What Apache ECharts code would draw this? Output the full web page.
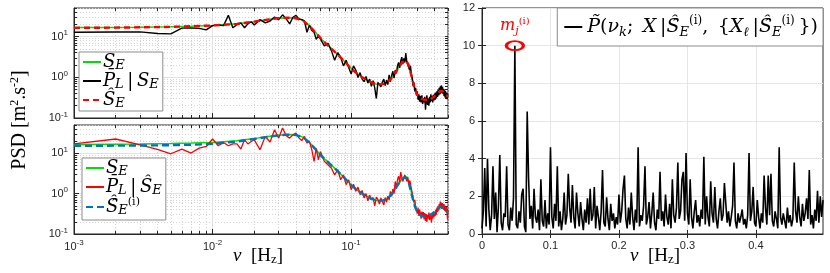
<!DOCTYPE html>
<html><head><meta charset="utf-8">
<script src="https://cdn.jsdelivr.net/npm/echarts@6/dist/echarts.min.js"></script>
<style>html,body{margin:0;padding:0;background:#fff}#c{width:830px;height:273px}</style>
</head><body><div id="c"></div>
<script>
// ---------- DATA ----------
const fSmooth = [0.001,0.002,0.003,0.005,0.007,0.01,0.015,0.02,0.025,0.03,0.035,0.04,0.045,0.05,0.055,0.06,0.065,0.07,0.08,0.09,0.1,0.11,0.12,0.13,0.14,0.15,0.16,0.17,0.18,0.19,0.2,0.21,0.22,0.23,0.24,0.25,0.26,0.27,0.28,0.29,0.3,0.32,0.34,0.36,0.38,0.4,0.42,0.44,0.45,0.46,0.48,0.5];
const sE = [16.5,16.7,16.9,17.3,17.8,18.5,20.5,23,26,28,29,28.5,25,18.5,13,9,7,5.6,3.6,2.4,1.65,1.25,1.0,0.85,0.74,0.68,0.66,0.67,0.72,0.85,1.05,1.35,1.75,2.2,2.55,2.6,2.0,1.2,0.72,0.48,0.37,0.30,0.28,0.28,0.30,0.33,0.39,0.45,0.47,0.45,0.38,0.33];
const sEhat = [16.3,16.5,16.8,17.2,17.8,18.6,20.3,23.2,26,28.2,29,28,24.5,18,12.8,9.2,7,5.5,3.6,2.4,1.62,1.24,1.0,0.85,0.75,0.69,0.67,0.68,0.73,0.86,1.05,1.33,1.72,2.15,2.5,2.55,2.0,1.22,0.74,0.49,0.37,0.30,0.28,0.28,0.30,0.34,0.40,0.46,0.47,0.45,0.38,0.33];
const sEhatI = [15.3,15.4,15.5,15.8,16.2,17,19.5,22.5,25.5,27.8,28.8,28.2,24.8,18.2,12.8,9,7,5.5,3.6,2.4,1.62,1.24,1.0,0.84,0.74,0.69,0.67,0.68,0.73,0.86,1.06,1.36,1.76,2.2,2.5,2.45,1.9,1.15,0.7,0.46,0.35,0.28,0.27,0.28,0.31,0.35,0.42,0.48,0.47,0.44,0.38,0.34];

const fNoisy = [0.001,0.002,0.003,0.004,0.005,0.006,0.007,0.008,0.009,0.010,
0.011,0.012,0.013,0.014,0.015,0.016,0.017,0.018,0.019,0.020,
0.022,0.024,0.026,0.028,0.030,0.032,0.034,0.036,0.038,0.040,
0.042,0.044,0.046,0.048,0.050,0.052,0.054,0.056,0.058,0.060,
0.064,0.068,0.072,0.076,0.080,0.084,0.088,0.092,0.096,0.100,
0.104,0.108,0.112,0.116,0.120,0.124,0.128,0.132,0.136,0.140,
0.144,0.148,0.152,0.156,0.160,0.164,0.168,0.172,0.176,0.180,
0.184,0.188,0.192,0.196,0.200,0.204,0.208,0.212,0.216,0.220,
0.224,0.228,0.232,0.236,0.240,0.244,0.248,0.252,0.256,0.260,
0.264,0.268,0.272,0.276,0.280,0.284,0.288,0.292,0.296,0.300,
0.304,0.308,0.312,0.316,0.320,0.324,0.328,0.332,0.336,0.340,
0.344,0.348,0.352,0.356,0.360,0.364,0.368,0.372,0.376,0.380,
0.384,0.388,0.392,0.396,0.400,0.404,0.408,0.412,0.416,0.420,
0.424,0.428,0.432,0.436,0.440,0.444,0.448,0.452,0.456,0.460,
0.464,0.468,0.472,0.476,0.480,0.484,0.488,0.492,0.496,0.500];

const plTop = [12.7,12.9,13.0,11.8,11.6,16.0,16.2,15.8,14.5,18.5,
19.2,18.5,33,16.4,19.5,21.5,16.4,20.5,23,19.2,
26,21.5,24,30,26,34,27,20.3,29.6,33,
27,26,24,12.7,19,14,12.7,8.5,10.5,8.7,
5.9,6.8,4.5,2.6,4.0,3.1,1.9,2.6,1.74,1.2,
1.9,1.5,0.98,1.3,0.9,0.78,1.05,0.72,0.9,0.6,
0.82,0.55,0.3,0.75,0.8,0.58,0.76,0.9,0.62,0.85,
0.66,1.15,0.78,1.1,1.4,0.95,1.5,1.25,1.9,2.3,
1.7,2.5,3.1,2.1,2.9,2.3,3.9,2.4,2.6,2.2,
1.5,1.9,1.2,0.95,0.6,0.75,0.45,0.55,0.36,0.45,
0.28,0.38,0.25,0.35,0.24,0.36,0.22,0.31,0.24,0.33,
0.16,0.27,0.36,0.21,0.3,0.2,0.33,0.24,0.38,0.26,
0.35,0.24,0.37,0.27,0.4,0.28,0.42,0.3,0.45,0.33,
0.5,0.36,0.55,0.38,0.6,0.4,0.63,0.42,0.58,0.39,
0.52,0.35,0.5,0.32,0.46,0.3,0.42,0.29,0.38,0.34];

const plBot = [17,22.5,16,12.5,9.7,12.7,10.1,13.4,14.7,22.5,
15.3,18.5,15.3,17,17,12.7,21.5,17,19.5,21.5,
12.2,26,19,38,23.7,42,27,23.7,28.7,31.5,
24,20.6,26,18,19.6,12.2,6.3,13.2,6.9,11,
6.3,5.2,4.3,2.9,3.9,2.2,2.9,1.67,2.2,1.25,
1.7,1.14,1.45,0.94,1.2,0.78,1.0,0.66,0.92,0.71,
0.8,0.5,0.82,0.71,0.55,0.78,0.65,0.52,0.8,0.62,
0.86,0.7,1.14,0.85,1.3,1.0,2.0,1.4,2.2,2.7,
1.9,3.4,2.6,2.0,2.4,2.9,2.5,2.0,2.6,1.8,
2.1,1.83,1.3,1.04,0.8,0.62,0.7,0.48,0.5,0.32,
0.45,0.28,0.4,0.33,0.24,0.36,0.26,0.35,0.23,0.33,
0.21,0.31,0.2,0.3,0.24,0.34,0.22,0.3,0.25,0.19,
0.32,0.24,0.36,0.26,0.33,0.28,0.4,0.3,0.45,0.35,
0.5,0.38,0.55,0.44,0.64,0.45,0.6,0.42,0.58,0.51,
0.4,0.55,0.38,0.5,0.44,0.35,0.47,0.33,0.23,0.4];

const fRight = [0,0.002,0.004,0.006,0.008,0.010,0.012,0.014,0.016,0.018,
0.020,0.022,0.024,0.026,0.028,0.030,0.032,0.034,0.036,0.038,
0.040,0.042,0.044,0.046,0.048,0.050,0.052,0.054,0.056,0.058,
0.060,0.062,0.064,0.066,0.068,0.070,0.072,0.074,0.076,0.078,
0.080,0.082,0.084,0.086,0.088,0.090,0.092,0.094,0.096,0.098,
0.100,0.102,0.104,0.106,0.108,0.110,0.112,0.114,0.116,0.118,
0.120,0.122,0.124,0.126,0.128,0.130,0.132,0.134,0.136,0.138,
0.140,0.142,0.144,0.146,0.148,0.150,0.152,0.154,0.156,0.158,
0.160,0.162,0.164,0.166,0.168,0.170,0.172,0.174,0.176,0.178,
0.180,0.182,0.184,0.186,0.188,0.190,0.192,0.194,0.196,0.198,
0.200,0.202,0.204,0.206,0.208,0.210,0.212,0.214,0.216,0.218,
0.220,0.222,0.224,0.226,0.228,0.230,0.232,0.234,0.236,0.238,
0.240,0.242,0.244,0.246,0.248,0.250,0.252,0.254,0.256,0.258,
0.260,0.262,0.264,0.266,0.268,0.270,0.272,0.274,0.276,0.278,
0.280,0.282,0.284,0.286,0.288,0.290,0.292,0.294,0.296,0.298,
0.300,0.302,0.304,0.306,0.308,0.310,0.312,0.314,0.316,0.318,
0.320,0.322,0.324,0.326,0.328,0.330,0.332,0.334,0.336,0.338,
0.340,0.342,0.344,0.346,0.348,0.350,0.352,0.354,0.356,0.358,
0.360,0.362,0.364,0.366,0.368,0.370,0.372,0.374,0.376,0.378,
0.380,0.382,0.384,0.386,0.388,0.390,0.392,0.394,0.396,0.398,
0.400,0.402,0.404,0.406,0.408,0.410,0.412,0.414,0.416,0.418,
0.420,0.422,0.424,0.426,0.428,0.430,0.432,0.434,0.436,0.438,
0.440,0.442,0.444,0.446,0.448,0.450,0.452,0.454,0.456,0.458,
0.460,0.462,0.464,0.466,0.468,0.470,0.472,0.474,0.476,0.478,
0.480,0.482,0.484,0.486,0.488,0.490,0.492,0.494,0.496,0.498];

const pRight = [0.3,1.2,3.5,0.4,4.0,1.3,0.2,1.0,3.6,0.8,
2.2,0.1,1.5,4.2,0.6,0.2,1.1,0.9,3.6,0.5,
0.2,1.4,0.7,1.9,10.0,0.5,0.3,1.2,0.6,2.1,
2.4,0.4,0.1,6.5,3.0,0.8,1.5,0.3,2.4,0.9,
0.6,1.3,0.2,2.9,0.7,0.4,1.8,0.3,1.1,0.5,
4.6,0.9,0.3,1.6,0.7,3.6,0.4,1.2,0.2,0.8,
2.2,0.5,1.0,3.2,1.4,0.6,2.6,0.9,0.3,2.2,
1.1,0.4,1.7,0.8,0.2,1.3,0.6,1.9,0.5,2.4,
0.7,1.0,2.5,0.3,1.5,0.9,0.2,1.2,3.4,0.6,
0.4,1.95,0.8,0.2,1.6,0.7,1.1,0.3,0.9,0.5,
2.1,0.6,1.2,2.4,3.1,0.8,0.3,1.4,0.5,2.2,
0.9,0.2,1.3,0.6,4.6,0.4,1.0,0.7,1.5,3.6,
0.5,0.9,1.7,0.3,1.1,2.2,0.6,0.2,1.3,0.8,
3.3,0.7,1.2,0.4,2.1,0.9,0.5,1.6,0.3,2.9,
1.0,0.6,1.4,3.8,0.8,1.2,2.9,3.3,0.7,4.3,
1.1,0.5,2.9,0.9,0.3,1.2,1.8,0.6,1.0,0.4,
1.3,0.8,4.1,0.5,2.0,0.9,0.4,2.8,1.1,0.6,
2.5,0.8,0.3,1.2,1.9,0.7,1.0,2.7,2.8,0.6,
1.2,0.4,0.9,1.5,3.8,0.7,0.3,1.1,0.6,0.9,
1.3,0.5,0.8,0.3,1.0,4.3,0.7,1.2,2.5,0.6,
0.4,1.8,0.9,0.3,1.1,0.6,3.1,1.4,0.5,3.1,
1.0,3.2,0.7,0.4,1.2,0.8,0.3,4.6,0.9,0.5,
1.1,0.7,0.3,1.4,0.6,1.0,0.4,0.8,3.8,1.2,
0.6,2.0,0.9,0.4,1.6,0.7,1.1,1.9,0.8,3.4,
0.5,1.0,0.3,1.3,0.7,2.3,0.6,2.0,0.9,1.8];

const xMajor = [0.001, 0.01, 0.1];
const xMinor = [0.002,0.003,0.004,0.005,0.006,0.007,0.008,0.009,0.02,0.03,0.04,0.05,0.06,0.07,0.08,0.09,0.2,0.3,0.4,0.5];
const yMajor = [0.1, 1, 10];
const yMinor = [0.2,0.3,0.4,0.5,0.6,0.7,0.8,0.9,2,3,4,5,6,7,8,9,20,30,40,50];
const rXTicks = [0, 0.1, 0.2, 0.3, 0.4];

// ---------- STYLE ----------
const AX = '#262626';
const SANS = 'Liberation Sans';
const SERIF = 'Liberation Serif';
const MSERIF = 'DejaVu Serif';
const powFmt = v => '{b|10}{s|' + Math.round(Math.log10(v)) + '}';
const powRich = {
  b: {fontFamily: SANS, fontSize: 11, color: AX, lineHeight: 15},
  s: {fontFamily: SANS, fontSize: 8, color: AX, lineHeight: 8, verticalAlign: 'top'}
};
const math = (c, s, lh, fam) => ({
  it: {fontFamily: fam, fontStyle: 'italic', fontSize: s, lineHeight: lh, color: c},
  n: {fontFamily: fam, fontSize: s, lineHeight: lh, color: c},
  sub: {fontFamily: fam, fontStyle: 'italic', fontSize: Math.round(s * 0.7), lineHeight: Math.round(s * 0.7), verticalAlign: 'bottom', color: c},
  subr: {fontFamily: fam, fontSize: Math.round(s * 0.7), lineHeight: Math.round(s * 0.7), verticalAlign: 'bottom', color: c},
  sup: {fontFamily: fam, fontSize: Math.round(s * 0.62), lineHeight: Math.round(s * 0.62), verticalAlign: 'top', color: c}
});
const legendText = {
  SE1: '{it|S}{sub|E}',
  PL1: '{it|P\u0304}{sub|L}{n|\u2009|\u2009}{it|S}{sub|E}',
  SEh: '{it|\u015C}{sub|E}',
  SE2: '{it|S}{sub|E}',
  PL2: '{it|P\u0304}{sub|L}{n|\u2009|\u2009}{it|\u015C}{sub|E}',
  SEhi: '{it|\u015C\u0302}{sub|E}{sup|(i)}',
  PT: '{it|P\u0303}{n|(}{it|\u03BD}{sub|k}{n|;\u2002}{it|X}{n|\u2009|}{it|\u015C\u0302}{sub|E}{sup|(i)}{n|,\u2002{}{it|X}{sub|\u2113}{n|\u2009|}{it|\u015C\u0302}{sub|E}{sup|(i)}{n|\u2009}})'
};

function logX(g, major, labels) {
  return {
    type: 'log', gridIndex: g, min: 0.001, max: 0.5, position: 'bottom',
    axisLine: {show: major, lineStyle: {color: AX}},
    axisTick: {show: true, inside: true, length: major ? 5 : 3, customValues: major ? xMajor : xMinor, lineStyle: {color: AX}},
    axisLabel: {show: labels, customValues: xMajor, formatter: powFmt, rich: powRich, margin: 5},
    splitLine: {show: true, lineStyle: major ? {color: '#e2e2e2', width: 1} : {color: '#d4d4d4', width: 1, type: [1, 2]}}
  };
}
function logXTop(g) {
  return {type: 'log', gridIndex: g, min: 0.001, max: 0.5, position: 'top',
    axisLine: {show: false}, axisTick: {show: true, inside: true, length: 3, customValues: xMajor.concat(xMinor), lineStyle: {color: AX}},
    axisLabel: {show: false}, splitLine: {show: false}};
}
function logY(g, major) {
  return {
    type: 'log', gridIndex: g, min: 0.1, max: 50, position: 'left',
    axisLine: {show: major, lineStyle: {color: AX}},
    axisTick: {show: true, inside: true, length: major ? 5 : 3, customValues: major ? yMajor : yMinor, lineStyle: {color: AX}},
    axisLabel: {show: major, customValues: yMajor, formatter: powFmt, rich: powRich, margin: 6},
    splitLine: {show: true, lineStyle: major ? {color: '#e2e2e2', width: 1} : {color: '#d4d4d4', width: 1, type: [1, 2]}}
  };
}
function logYRight(g) {
  return {type: 'log', gridIndex: g, min: 0.1, max: 50, position: 'right',
    axisLine: {show: false}, axisTick: {show: true, inside: true, length: 3, customValues: yMajor.concat(yMinor), lineStyle: {color: AX}},
    axisLabel: {show: false}, splitLine: {show: false}};
}

const pair = (xs, ys) => xs.map((x, i) => [x, ys[i]]);
const lineS = (name, xi, yi, xs, ys, color, width, type, z) => ({
  name, type: 'line', xAxisIndex: xi, yAxisIndex: yi, data: pair(xs, ys),
  symbol: 'none', showSymbol: false, z: z || 2,
  lineStyle: {color, width, type: type || 'solid'}, itemStyle: {color}
});

const legendBase = {
  orient: 'vertical', backgroundColor: '#fff', borderColor: '#8c8c8c', borderWidth: 1,
  itemWidth: 18, itemHeight: 12, itemGap: 0, padding: [1, 4, 1, 3], selectedMode: false,
  itemStyle: {opacity: 0},
  formatter: n => legendText[n],
  textStyle: {fontFamily: MSERIF, fontSize: 18, color: '#000', rich: math('#000', 18, 20, MSERIF), padding: [0, 0, 0, -3]}
};

const chart = echarts.init(document.getElementById('c'), null, {renderer: 'canvas'});
chart.setOption({
  animation: false,
  backgroundColor: '#fff',
  grid: [
    {left: 74, top: 8, width: 374, height: 110, show: true, borderColor: AX, borderWidth: 1, backgroundColor: '#fff'},
    {left: 74, top: 125, width: 374, height: 109, show: true, borderColor: AX, borderWidth: 1, backgroundColor: '#fff'},
    {left: 482, top: 8, width: 341, height: 226, show: true, borderColor: AX, borderWidth: 1, backgroundColor: '#fff'}
  ],
  xAxis: [
    logX(0, true, false), logX(0, false, false), logXTop(0),
    logX(1, true, true), logX(1, false, false), logXTop(1),
    {type: 'value', gridIndex: 2, min: 0, max: 0.498, position: 'bottom',
      axisLine: {show: true, lineStyle: {color: AX}},
      axisTick: {show: true, inside: true, length: 4, customValues: rXTicks, lineStyle: {color: AX}},
      axisLabel: {customValues: rXTicks, color: AX, fontFamily: SANS, fontSize: 11, margin: 6},
      splitLine: {show: true, lineStyle: {color: '#e6e6e6'}}},
    {type: 'value', gridIndex: 2, min: 0, max: 0.498, position: 'top',
      axisLine: {show: false}, axisTick: {show: true, inside: true, length: 4, customValues: rXTicks, lineStyle: {color: AX}},
      axisLabel: {show: false}, splitLine: {show: false}}
  ],
  yAxis: [
    logY(0, true), logY(0, false), logYRight(0),
    logY(1, true), logY(1, false), logYRight(1),
    {type: 'value', gridIndex: 2, min: 0, max: 12, interval: 2, position: 'left',
      axisLine: {show: true, lineStyle: {color: AX}},
      axisTick: {show: true, inside: true, length: 4, lineStyle: {color: AX}},
      axisLabel: {color: AX, fontFamily: SANS, fontSize: 11, margin: 7},
      splitLine: {show: true, lineStyle: {color: '#e6e6e6'}}},
    {type: 'value', gridIndex: 2, min: 0, max: 12, interval: 2, position: 'right',
      axisLine: {show: false}, axisTick: {show: true, inside: true, length: 4, lineStyle: {color: AX}},
      axisLabel: {show: false}, splitLine: {show: false}}
  ],
  legend: [
    Object.assign({}, legendBase, {left: 79, top: 52, data: ['SE1', 'PL1', 'SEh']}),
    Object.assign({}, legendBase, {left: 82, top: 158, padding: [1, 4, 3, 3], data: ['SE2', 'PL2', 'SEhi']}),
    Object.assign({}, legendBase, {right: 7, top: 8, padding: [7, 5, 7, 6], itemWidth: 18,
      textStyle: {fontFamily: MSERIF, fontSize: 19, color: '#000', rich: math('#000', 19, 24, MSERIF), padding: [0, 0, 0, 0]},
      data: ['PT']})
  ],
  series: [
    lineS('SE1', 0, 0, fSmooth, sE, '#00e000', 1.5, 'solid', 2),
    lineS('PL1', 0, 0, fNoisy, plTop, '#000000', 1.4, 'solid', 3),
    lineS('SEh', 0, 0, fSmooth, sEhat, '#ff0000', 2.4, [6, 4], 4),
    lineS('SE2', 3, 3, fSmooth, sE, '#00e000', 1.5, 'solid', 2),
    lineS('PL2', 3, 3, fNoisy, plBot, '#ff0000', 1.3, 'solid', 3),
    lineS('SEhi', 3, 3, fSmooth, sEhatI, '#0072BD', 2.4, [7, 4], 4),
    Object.assign(lineS('PT', 6, 6, fRight, pRight, '#000000', 1.6, 'solid', 3), {
      markPoint: {
        symbol: 'circle', symbolSize: [17, 9],
        itemStyle: {color: 'rgba(0,0,0,0)', borderColor: '#ff0000', borderWidth: 2.5},
        label: {show: true, position: 'top', distance: 4, formatter: '{it|m}{sub|j}{sup|(i)}', rich: math('#ff0000', 16, 20, MSERIF)},
        data: [{type: 'max'}]
      }
    })
  ],
  graphic: [
    {type: 'text', x: 20, y: 120, rotation: Math.PI / 2,
      style: {text: '{n|PSD [m}{sup|2}{n|.s}{sup|-2}{n|]}', rich: math('#000', 20, 22, SERIF), align: 'center', verticalAlign: 'middle', fill: '#000'}},
    {type: 'text', x: 258, y: 256,
      style: {text: '{it|\u03BD}{n|\u2002[H}{subr|z}{n|]}', rich: math('#000', 19, 20, SERIF), align: 'center', verticalAlign: 'middle', fill: '#000'}},
    {type: 'text', x: 655, y: 256,
      style: {text: '{it|\u03BD}{n|\u2002[H}{subr|z}{n|]}', rich: math('#000', 19, 20, SERIF), align: 'center', verticalAlign: 'middle', fill: '#000'}}
  ]
});
</script>
</body></html>
